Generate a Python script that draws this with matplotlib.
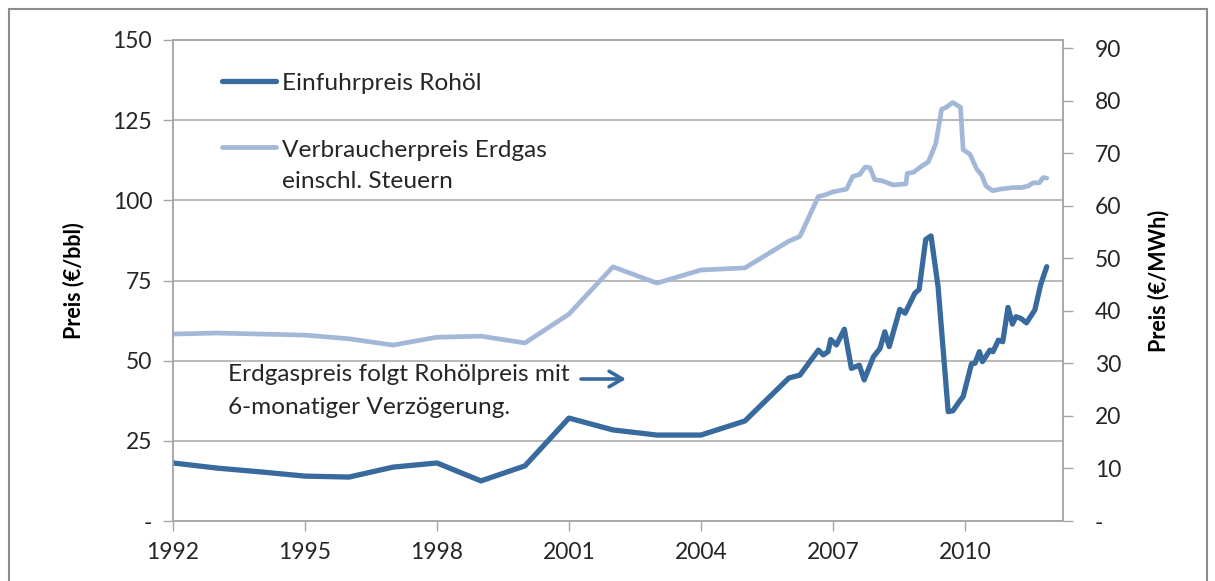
import matplotlib
matplotlib.use("Agg")
import matplotlib.pyplot as plt
from matplotlib.patches import Rectangle

# Crude oil import price (€/bbl), left axis
oil_x = [1992, 1993, 1994, 1995, 1996, 1997, 1998, 1999, 2000, 2001, 2002, 2003, 2004, 2005, 2006,
         2006.25, 2006.67, 2006.78, 2006.89, 2006.95, 2007.08, 2007.26, 2007.42, 2007.60, 2007.71,
         2007.92, 2008.07, 2008.18, 2008.28, 2008.52, 2008.64, 2008.86, 2008.96, 2009.11, 2009.23,
         2009.39, 2009.62, 2009.73, 2009.87, 2009.96, 2010.15, 2010.23, 2010.33, 2010.40, 2010.57,
         2010.64, 2010.76, 2010.86, 2010.98, 2011.08, 2011.16, 2011.27, 2011.40, 2011.59, 2011.72, 2011.86]
oil_y = [18.1, 16.5, 15.3, 14.0, 13.7, 16.8, 18.1, 12.5, 17.2, 32.1, 28.4, 26.8, 26.8, 31.2, 44.6,
         45.5, 53.3, 51.8, 52.8, 56.6, 54.9, 59.8, 47.6, 48.6, 44.0,
         51.2, 53.8, 59.0, 54.4, 66.0, 64.8, 71.0, 72.2, 87.8, 88.9,
         73.1, 34.1, 34.4, 37.2, 38.8, 49.0, 49.2, 52.8, 49.7, 53.3,
         52.8, 56.4, 55.9, 66.6, 61.4, 63.7, 63.2, 61.8, 65.8, 73.6, 79.3]

# Consumer gas price incl. taxes (€/MWh), right axis
gas_x = [1992, 1993, 1994, 1995, 1996, 1997, 1998, 1999, 2000, 2001, 2002, 2003, 2004, 2005, 2006,
         2006.25, 2006.67, 2006.82, 2007.01, 2007.31, 2007.45, 2007.61, 2007.73, 2007.84, 2007.95,
         2008.11, 2008.37, 2008.66, 2008.69, 2008.83, 2009.02, 2009.17, 2009.34, 2009.47, 2009.58,
         2009.72, 2009.90, 2009.96, 2010.11, 2010.27, 2010.38, 2010.48, 2010.63, 2010.80, 2011.10,
         2011.29, 2011.44, 2011.55, 2011.69, 2011.78, 2011.86]
gas_y = [35.6, 35.8, 35.6, 35.4, 34.7, 33.5, 35.0, 35.2, 33.9, 39.4, 48.4, 45.3, 47.8, 48.2, 53.3,
         54.2, 61.8, 62.1, 62.7, 63.2, 65.6, 66.0, 67.4, 67.3, 65.0,
         64.8, 64.0, 64.2, 66.2, 66.4, 67.6, 68.4, 71.9, 78.4, 78.8,
         79.7, 78.8, 70.7, 69.9, 67.0, 65.9, 63.8, 62.9, 63.2, 63.5,
         63.5, 63.8, 64.4, 64.4, 65.4, 65.3]

x_ticks = [1992, 1995, 1998, 2001, 2004, 2007, 2010]
left_ticks = [0, 25, 50, 75, 100, 125, 150]
left_labels = ["-", "25", "50", "75", "100", "125", "150"]
right_ticks = [0, 10, 20, 30, 40, 50, 60, 70, 80, 90]
right_labels = ["-", "10", "20", "30", "40", "50", "60", "70", "80", "90"]

dark = "#386A9E"
light = "#A3B8D8"
grid_c = "#A6A6A6"
txt_c = "#262626"
FONT = "Lato"
TICK_FS = 16.5
TXT_FS = 17.6

W, H = 1215, 581
fig = plt.figure(figsize=(W / 100, H / 100), dpi=100)
plt.rcParams['font.family'] = [FONT, 'DejaVu Sans']

ax = fig.add_axes([173 / W, 1 - 521 / H, (1063 - 173) / W, (521 - 40) / H])
ax2 = ax.twinx()

ax.set_xlim(1992, 2012.23)
ax.set_ylim(0, 150)
ax2.set_ylim(0, 91.6)

for yv in left_ticks[1:-1]:
    ax.axhline(yv, color=grid_c, lw=1.1, zorder=0)

ax.plot(oil_x, oil_y, color=dark, lw=3.8, solid_capstyle='round', solid_joinstyle='round', zorder=3)
ax2.plot(gas_x, gas_y, color=light, lw=3.4, solid_capstyle='round', solid_joinstyle='round', zorder=2)

ax.set_xticks(x_ticks)
ax.set_xticklabels([str(v) for v in x_ticks], fontsize=TICK_FS, color=txt_c)
ax.set_yticks(left_ticks)
ax.set_yticklabels(left_labels, fontsize=TICK_FS, color=txt_c)
ax2.set_yticks(right_ticks)
ax2.set_yticklabels(right_labels, fontsize=TICK_FS, color=txt_c)

for a in (ax, ax2):
    for s in a.spines.values():
        s.set_color(grid_c)
        s.set_linewidth(1.1)
    a.tick_params(direction='out', length=7, width=1, color=grid_c, pad=8)
ax2.tick_params(axis='y', pad=16)
ax.tick_params(axis='x', pad=8)

ax.set_ylabel("Preis (€/bbl)", fontsize=15.5, fontweight='bold', color='black', labelpad=20)
ax2.set_ylabel("Preis (€/MWh)", fontsize=15.5, fontweight='bold', color='black', labelpad=19, rotation=90)

# legend (custom, inside axes)
fig.lines.append(plt.Line2D([222 / W, 276 / W], [1 - 81 / H, 1 - 81 / H], color=dark, lw=3.8,
                            solid_capstyle='round', transform=fig.transFigure))
fig.lines.append(plt.Line2D([222 / W, 276 / W], [1 - 147 / H, 1 - 147 / H], color=light, lw=3.4,
                            solid_capstyle='round', transform=fig.transFigure))
fig.text(282 / W, 1 - 90 / H, "Einfuhrpreis Rohöl", fontsize=TXT_FS, color=txt_c, va='baseline', ha='left')
fig.text(282 / W, 1 - 157 / H, "Verbraucherpreis Erdgas", fontsize=TXT_FS, color=txt_c, va='baseline', ha='left')
fig.text(282 / W, 1 - 188.5 / H, "einschl. Steuern", fontsize=TXT_FS, color=txt_c, va='baseline', ha='left')

# annotation
fig.text(228 / W, 1 - 381 / H, "Erdgaspreis folgt Rohölpreis mit", fontsize=TXT_FS, color=txt_c,
         va='baseline', ha='left')
fig.text(228 / W, 1 - 413.5 / H, "6-monatiger Verzögerung.", fontsize=TXT_FS, color=txt_c,
         va='baseline', ha='left')
ax.annotate("", xy=(626 / W, 1 - 379 / H), xytext=(581 / W, 1 - 379 / H),
            xycoords='figure fraction', textcoords='figure fraction',
            arrowprops=dict(arrowstyle='->,head_length=0.6,head_width=0.35', color=dark, lw=2.6,
                            mutation_scale=16, shrinkA=0, shrinkB=0))

# outer border
fig.patches.append(Rectangle((9 / W, -0.05), (1207 - 9) / W, 1 - 9 / H + 0.05, transform=fig.transFigure,
                             fill=False, edgecolor='#8C8C8C', lw=1.5))

fig.savefig("out.png", dpi=100)
